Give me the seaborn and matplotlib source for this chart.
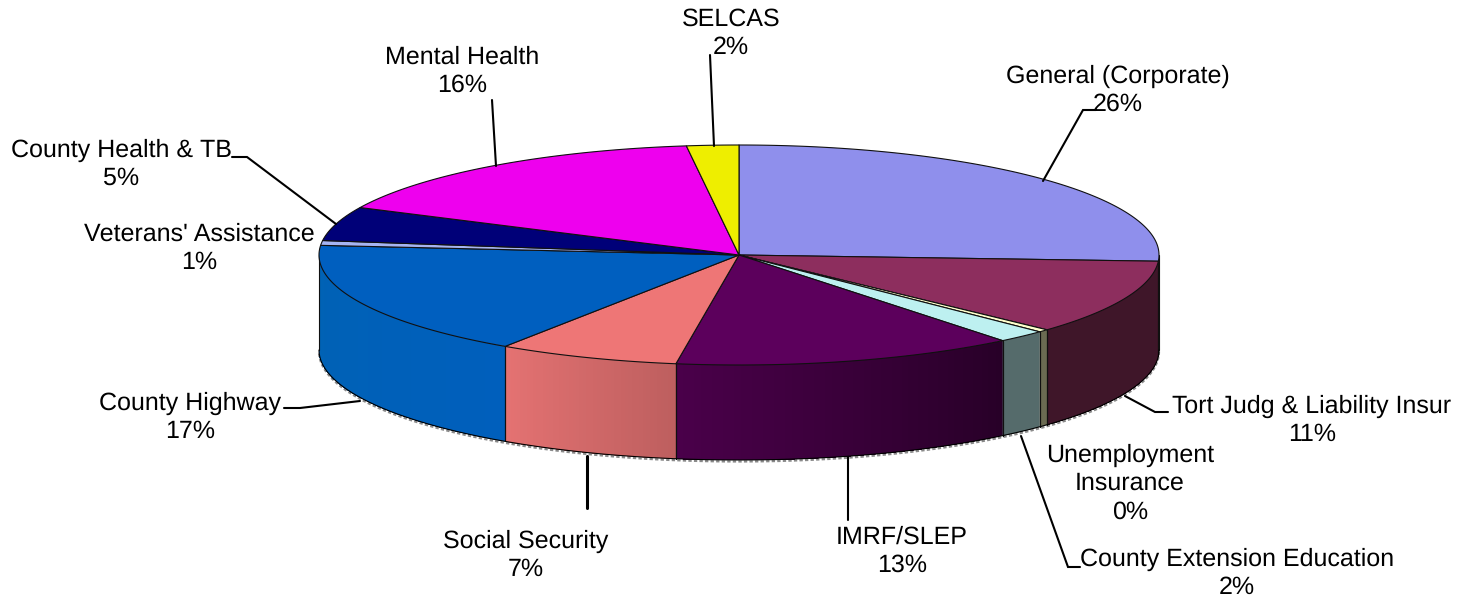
import numpy as np
import matplotlib
matplotlib.use('Agg')
import matplotlib.pyplot as plt
import seaborn as sns

# 예산 구성 (%) - 그림에서 읽은 값
categories = ['General (Corporate)', 'Tort Judg & Liability Insur', 'Unemployment\nInsurance',
              'County Extension Education', 'IMRF/SLEP', 'Social Security', 'County Highway',
              "Veterans' Assistance", 'County Health & TB', 'Mental Health', 'SELCAS']
values = [25.9, 11.0, 0.4, 1.9, 13.2, 7.0, 17.0, 0.7, 5.0, 15.9, 2.0]

top_colors = ['#8F8FEC', '#8D2E5E', '#FFFFCC', '#BDF0F0', '#5C005C', '#EE7676',
              '#005FBF', '#A6B4F2', '#000078', '#EE00EE', '#EEEE00']
side_right = ['#5E5E9C', '#3F1629', '#6B6B52', '#556B6B', '#280028', '#BE5F5F',
              '#005FBC', '#7C88B8', '#000050', '#9E009E', '#9E9E00']
side_left = ['#5E5E9C', '#3F1629', '#6B6B52', '#556B6B', '#4A004A', '#E47272',
             '#0062B4', '#7C88B8', '#000050', '#9E009E', '#9E9E00']

# 글자 중심 위치 (픽셀)
label_pos = [(1118, 90.5), (1312, 420.5), (1130, 483.5), (1237, 573.5), (902, 551.5),
             (526, 555.5), (190, 417.5), (199, 248.5), (121, 164.5), (462, 71.5), (731, 33.5)]

# 지시선 (픽셀)
leaders = [[(1043, 181), (1083, 110), (1096, 110)], [(1125, 396), (1155, 412), (1168, 412)],
           [(1021, 436), (1068, 567), (1080, 567)], [(848, 457), (848, 520)],
           [(587, 456), (587, 508)], [(360, 401), (300, 408), (284, 408)],
           [(336, 224), (247, 157), (232, 157)], [(496, 166), (492, 100)], [(714, 146), (710, 55)]]
leader_widths = [1.5, 1.5, 1.5, 1.5, 2.2, 1.5, 1.5, 1.5, 1.5]

cx, cy, rx, ry, depth = 739, 255, 420, 110, 95

sns.set_theme(style='white')
plt.rcParams['font.family'] = ['Liberation Sans', 'DejaVu Sans']
plt.rcParams['text.hinting'] = 'no_hinting'
plt.rcParams['text.hinting_factor'] = 1

fig, ax = plt.subplots(figsize=(14.61, 6), dpi=100)
ax.set_position([0, 0, 1, 1])
ax.set_xlim(0, 1461)
ax.set_ylim(600, 0)
ax.axis('off')


def ell(t, dy=0):
    # t : 12시부터 시계방향 각도(도)
    r = np.radians(t)
    return cx + rx * np.sin(r), cy - ry * np.cos(r) + dy


edges = np.concatenate([[0], np.cumsum(values)]) / sum(values) * 360

# 아래쪽 그림자
t = np.linspace(90, 270, 300)
x, y = ell(t, depth + 1.5)
ax.plot(x, y, color='#8a8a8a', lw=1.6, ls=(0, (1.5, 1)), zorder=1)

# 옆면 - 겹쳐 칠해서 줄무늬가 안 생기게 함
for i, (a, b) in enumerate(zip(edges[:-1], edges[1:])):
    lo, hi = max(a, 90), min(b, 270)
    if hi <= lo:
        continue
    n = max(int((hi - lo) * 2), 2)
    shades = sns.blend_palette([side_right[i], side_left[i]], n)
    ts = np.linspace(lo, hi, n + 1)
    for j in range(n):
        seg = np.linspace(ts[j], hi, 40)
        x, y = ell(seg)
        x2, y2 = ell(seg[::-1], depth)
        ax.fill(np.r_[x, x2], np.r_[y, y2], facecolor=shades[j], edgecolor='none', zorder=2)
    for e in (lo, hi):
        x, y = ell(e)
        ax.plot([x, x], [y, y + depth], color='#101010', lw=0.8, zorder=3)

x, y = ell(t, depth)
ax.plot(x, y, color='black', lw=0.8, zorder=3)

# 윗면
for i, (a, b) in enumerate(zip(edges[:-1], edges[1:])):
    seg = np.linspace(a, b, max(int(b - a) * 2, 3))
    x, y = ell(seg)
    ax.fill(np.r_[cx, x], np.r_[cy, y], facecolor=top_colors[i], edgecolor='#101010',
            lw=0.8, joinstyle='round', zorder=4)

# 지시선
for pts, w in zip(leaders, leader_widths):
    px, py = zip(*pts)
    ax.plot(px, py, color='black', lw=w, solid_joinstyle='miter', zorder=5)

# 라벨
for name, v, (lx, ly) in zip(categories, values, label_pos):
    ax.text(lx, ly, f'{name}\n{v:.0f}%', ha='center', va='center', fontsize=17.65,
            color='black', linespacing=1.28, zorder=6)

fig.savefig('out.png', dpi=100, facecolor='white')
